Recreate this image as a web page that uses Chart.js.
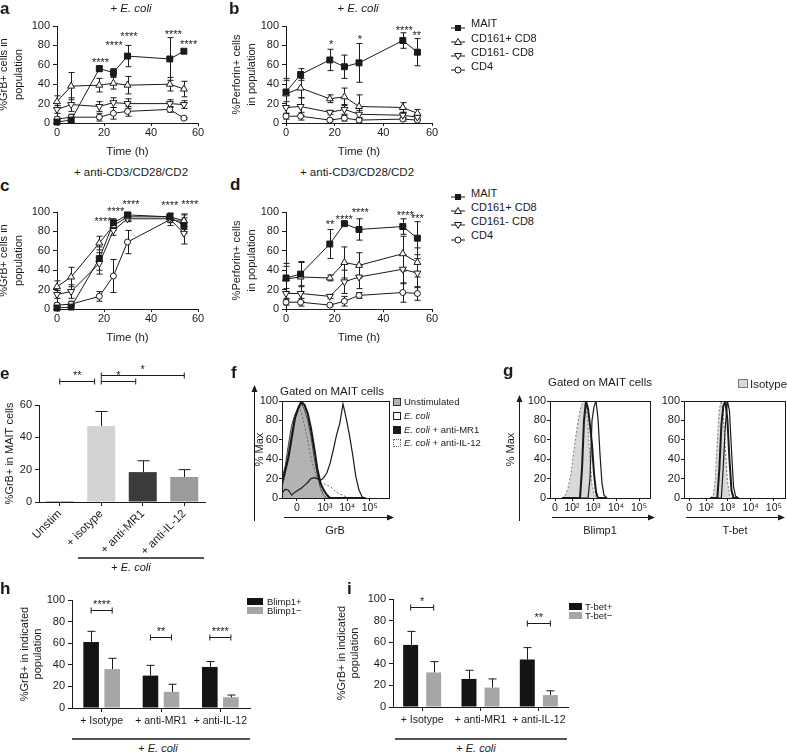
<!DOCTYPE html>
<html lang="en">
<head>
<meta charset="utf-8">
<title>GrB and perforin in MAIT cells</title>
<script src="https://cdn.jsdelivr.net/npm/chart.js@4.4.1/dist/chart.umd.min.js"></script>
<style>
  html, body { margin: 0; padding: 0; background: #fff; }
  #fig { position: relative; width: 787px; height: 753px; overflow: hidden;
         font-family: "Liberation Sans", Arial, sans-serif; color: #1a1a1a; }
  #fig canvas { position: absolute; }
  .t { position: absolute; white-space: nowrap; line-height: 1; }
  .sw { position: absolute; box-sizing: border-box; }
</style>
</head>
<body>
<div id="fig"></div>
<script>
// ---- values ----
const hours = [0, 6, 18, 24, 30, 48, 54];
const cellTypes = ['MAIT', 'CD161+ CD8', 'CD161- CD8', 'CD4'];

// rows follow cellTypes (mean, then SD)
const grbEcoli = [
  [1, 3, 56, 52, 69, 66, 74],
  [22, 38, 39, 41, 39, 40, 35],
  [14, 19, 17, 21, 20, 20, 19],
  [4, 6, 6, 10, 12, 14, 5]
];
const grbEcoliSd = [
  [1, 2, 3, 4, 11, 22, 0],
  [6, 14, 7, 6, 9, 7, 8],
  [4, 7, 5, 5, 5, 4, 4],
  [2, 3, 4, 6, 5, 3, 1]
];
const prfEcoli = [
  [32, 50, 65, 58, 62, 85, 73],
  [30, 36, 25, 27, 17, 16, 10],
  [16, 17, 11, 14, 9, 8, 6],
  [7, 7, 3, 5, 3, 4, 3]
];
const prfEcoliSd = [
  [14, 6, 11, 12, 20, 8, 14],
  [14, 10, 4, 9, 12, 5, 4],
  [6, 9, 2, 5, 4, 3, 2],
  [3, 4, 1, 3, 2, 2, 1]
];
const grbCd3 = [
  [1, 2, 52, 89, 97, 95, 86],
  [23, 33, 68, 86, 95, 95, 91],
  [15, 18, 47, 81, 93, 93, 78],
  [4, 5, 13, 34, 69, 92, 90]
];
const grbCd3Sd = [
  [2, 2, 12, 4, 2, 3, 8],
  [6, 10, 7, 5, 4, 4, 6],
  [4, 7, 11, 5, 3, 4, 11],
  [2, 3, 5, 17, 12, 6, 8]
];
const prfCd3 = [
  [32, 36, 67, 88, 82, 85, 73],
  [31, 33, 32, 48, 45, 57, 48],
  [16, 16, 13, 28, 33, 41, 37],
  [7, 7, 4, 8, 14, 17, 16]
];
const prfCd3Sd = [
  [15, 13, 15, 1, 11, 8, 17],
  [13, 15, 3, 16, 13, 18, 15],
  [5, 8, 2, 12, 12, 15, 15],
  [3, 4, 1, 5, 3, 10, 7]
];
// significance stars: [time, % level, text]
const sigA = [[18.5, 65, '****'], [24.3, 82, '****'], [30.6, 92, '****'], [49.5, 94, '****'], [56, 84, '****']];
const sigB = [[18.5, 83.5, '*'], [30.4, 88.7, '*'], [48.6, 98, '****'], [53.7, 93, '**']];
const sigC = [[19.6, 93, '****'], [25, 103, '****'], [31.5, 110, '****'], [48, 109, '****'], [56.5, 110, '****']];
const sigD = [[18.1, 90, '**'], [23.9, 95, '****'], [30.5, 102, '****'], [49, 99, '****'], [54, 96, '***']];

// e: %GrB+ in MAIT cells
const eLabels = ['Unstim', '+ isotype', '+ anti-MR1', '+ anti-IL-12'];
const eMean = [0.5, 47, 18.5, 15.5];
const eErr = [0, 9, 7, 4.5];
const eBrackets = [[0, 0.84, 75, '**'], [1, 1.83, 75, '*'], [1, 3, 78.5, '*']];

// h, i
const treatLabels = ['+ Isotype', '+ anti-MR1', '+ anti-IL-12'];
const blimpPos = [61, 30, 38];
const blimpPosErr = [10, 9.5, 5];
const blimpNeg = [36, 15, 10];
const blimpNegErr = [10, 7, 2];
const blimpPairs = [[0, 90.5, '****'], [1, 66, '**'], [2, 66, '****']];
const tbetPos = [57.5, 26, 44];
const tbetPosErr = [12.5, 8, 11];
const tbetNeg = [32, 18, 11];
const tbetNegErr = [10, 8, 4];
const tbetPairs = [[0, 92.3, '*'], [2, 77.5, '**']];

// f: GrB histograms (channel, % max)
const fBins = [0, 3, 6, 9, 12, 15, 18, 21, 24, 27, 30, 33, 36, 39, 42, 45, 48, 51, 54, 57, 60, 63, 66, 69, 72, 75, 78];
const fUnstim = [20, 33, 55, 75, 86, 92, 98, 91, 80, 64, 42, 24, 10, 3, 0, 0, 0, 0, 0, 0, 0, 0, 0, 0, 0, 0, 0];
const fEcoli = [5, 9, 8, 3, 6, 8, 10, 13, 16, 20, 21, 20, 18, 21, 26, 36, 50, 65, 77, 97, 82, 65, 45, 22, 8, 1, 0];
const fAntiMR1 = [15, 28, 42, 62, 82, 92, 99, 96, 87, 72, 52, 30, 15, 8, 3, 0, 0, 0, 0, 0, 0, 0, 0, 0, 0, 0, 0];
const fAntiIL12 = [10, 25, 45, 65, 80, 95, 88, 75, 60, 42, 30, 20, 16, 15, 13, 12, 9, 6, 4, 3, 1, 0, 0, 0, 0, 0, 0];
const fTicks = [14, 40, 61, 82];
const fTickLabels = ['0', '10³', '10⁴', '10⁵'];

// g: Blimp1 and T-bet histograms
const gBins = [12, 15, 18, 21, 24, 27, 30, 32, 34, 36, 38, 40, 42, 44, 46, 48, 50, 52, 54, 57];
const blimpIso = [0, 2, 10, 25, 50, 72, 90, 97, 100, 93, 75, 40, 14, 5, 0, 0, 0, 0, 0, 0];
const blimpA = [0, 0, 0, 0, 0, 0, 0, 30, 80, 100, 92, 75, 55, 25, 6, 0, 0, 0, 0, 0];
const blimpB = [0, 0, 0, 0, 0, 0, 0, 0, 0, 0, 0, 20, 80, 94, 100, 82, 45, 15, 3, 0];
const tBins = [26, 29, 31, 33, 35, 37, 39, 41, 43, 45, 47, 49, 51, 54];
const tbetIso = [0, 3, 20, 60, 92, 100, 85, 50, 18, 3, 0, 0, 0, 0];
const tbetA = [0, 0, 0, 0, 30, 75, 95, 100, 80, 40, 8, 0, 0, 0];
const tbetB = [0, 0, 0, 0, 0, 0, 35, 75, 100, 90, 50, 12, 2, 0];
const gTicks = [5, 22, 43, 66, 89];
const gTickLabels = ['0', '10²', '10³', '10⁴', '10⁵'];

// ---- drawing ----
const INK = '#1a1a1a';
const FONT = '"Liberation Sans", Arial, sans-serif';
Chart.defaults.font.family = FONT;
Chart.defaults.font.size = 11;
Chart.defaults.color = INK;

const MARK = [
  { style: 'rect', rot: 0, r: 4.2, fill: INK },
  { style: 'triangle', rot: 0, r: 4, fill: '#fff' },
  { style: 'triangle', rot: 180, r: 4, fill: '#fff' },
  { style: 'circle', rot: 0, r: 3, fill: '#fff' }
];
const fig = document.getElementById('fig');

function drawErrors(chart, upOnly, cap) {
  const ctx = chart.ctx, ys = chart.scales.y;
  chart.data.datasets.forEach((ds, i) => {
    if (!ds.errors) return;
    chart.getDatasetMeta(i).data.forEach((el, j) => {
      const e = ds.errors[j];
      if (!e) return;
      const v = typeof ds.data[j] === 'object' ? ds.data[j].y : ds.data[j];
      const x = Math.round(el.x) + 0.5;
      const top = ys.getPixelForValue(v + e);
      const low = v - e > 0 ? v - e : 0;
      const bot = upOnly ? ys.getPixelForValue(v) : ys.getPixelForValue(low);
      ctx.beginPath();
      ctx.moveTo(x, bot); ctx.lineTo(x, top);
      ctx.moveTo(x - cap, top); ctx.lineTo(x + cap, top);
      if (!upOnly && v - e > 0) { ctx.moveTo(x - cap, bot); ctx.lineTo(x + cap, bot); }
      ctx.stroke();
    });
  });
}

function bracket(ctx, x1, x2, yy, t) {
  yy = Math.round(yy) + 0.5;
  ctx.beginPath();
  ctx.moveTo(x1, yy - 3); ctx.lineTo(x1, yy + 3);
  ctx.moveTo(x1, yy); ctx.lineTo(x2, yy);
  ctx.moveTo(x2, yy - 3); ctx.lineTo(x2, yy + 3);
  ctx.stroke();
  ctx.fillText(t, (x1 + x2) / 2, yy - 3);
}

// error bars, stars, brackets, frames and arrows
function marks(spec) {
  return {
    id: 'marks',
    beforeDatasetsDraw(chart) {
      if (spec.err !== 'both') return;
      chart.ctx.save();
      chart.ctx.strokeStyle = INK; chart.ctx.lineWidth = 1;
      drawErrors(chart, false, spec.cap || 3);
      chart.ctx.restore();
    },
    afterDatasetsDraw(chart) {
      const ctx = chart.ctx, xs = chart.scales.x, ys = chart.scales.y, a = chart.chartArea;
      ctx.save();
      ctx.strokeStyle = INK; ctx.fillStyle = INK; ctx.lineWidth = 1;
      if (spec.err === 'up') drawErrors(chart, true, spec.cap || 4);
      ctx.font = '11px ' + FONT;
      ctx.textAlign = 'center';
      (spec.sig || []).forEach(([sx, sy, t]) => {
        ctx.fillText(t, xs.getPixelForValue(sx), ys.getPixelForValue(sy) + 6);
      });
      (spec.brackets || []).forEach(([i, j, by, t]) => {
        bracket(ctx, xs.getPixelForValue(i), xs.getPixelForValue(j), ys.getPixelForValue(by), t);
      });
      (spec.pairs || []).forEach(([g, by, t]) => {
        const b0 = chart.getDatasetMeta(0).data[g], b1 = chart.getDatasetMeta(1).data[g];
        bracket(ctx, b0.x, b1.x, ys.getPixelForValue(by), t);
      });
      if (spec.box) {
        ctx.strokeRect(Math.round(a.left) + 0.5, Math.round(a.top) + 0.5,
          Math.round(a.right - a.left), Math.round(a.bottom - a.top));
      }
      if (spec.arrowY != null) {
        const ax = Math.round(a.left - spec.arrowY) + 0.5, tip = a.top - spec.arrowTop;
        ctx.beginPath(); ctx.moveTo(ax, a.bottom + 23); ctx.lineTo(ax, tip + 4); ctx.stroke();
        ctx.beginPath(); ctx.moveTo(ax, tip); ctx.lineTo(ax - 3, tip + 7); ctx.lineTo(ax + 3, tip + 7); ctx.fill();
      }
      if (spec.arrowX) {
        const ay = Math.round(a.bottom + 19) + 0.5, tip = a.right + (spec.arrowEnd == null ? 5 : spec.arrowEnd);
        ctx.beginPath(); ctx.moveTo(a.left + 2, ay); ctx.lineTo(tip - 4, ay); ctx.stroke();
        ctx.beginPath(); ctx.moveTo(tip, ay); ctx.lineTo(tip - 7, ay - 3); ctx.lineTo(tip - 7, ay + 3); ctx.fill();
      }
      ctx.restore();
    }
  };
}

// canvas at rect [left, top, width, height]; plot area pinned to [left, top, right, bottom]
function makeChart(rect, area, cfg) {
  const [L, T, W, H] = rect;
  const cv = document.createElement('canvas');
  cv.width = W; cv.height = H;
  cv.style.left = L + 'px'; cv.style.top = T + 'px';
  cv.style.width = W + 'px'; cv.style.height = H + 'px';
  fig.appendChild(cv);
  const yW = area[0] - L, xH = T + H - area[3];
  const o = cfg.options;
  o.responsive = false; o.animation = false; o.devicePixelRatio = 1; o.events = [];
  o.layout = { padding: { left: 0, top: area[1] - T, right: L + W - area[2], bottom: 0 } };
  o.plugins = { legend: { display: false }, tooltip: { enabled: false } };
  o.scales.x.afterFit = s => { s.height = xH; };
  o.scales.y.afterFit = s => { s.width = yW; };
  return new Chart(cv, cfg);
}

function axisBase(tick) {
  return { border: { color: INK, width: 1 },
           grid: { drawOnChartArea: false, tickLength: tick, color: INK, offset: false } };
}
function yTitle(text, pad, lh) {
  return { display: true, text, color: INK, font: { size: 11, lineHeight: lh || 1.2 }, padding: { top: pad } };
}

function timeCourse(rect, area, means, sds, title, sig) {
  const datasets = means.map((row, k) => ({
    label: cellTypes[k],
    data: hours.map((h, j) => ({ x: h, y: row[j] })),
    errors: sds[k],
    borderColor: INK, borderWidth: 1,
    pointStyle: MARK[k].style, pointRotation: MARK[k].rot, pointRadius: MARK[k].r,
    pointBackgroundColor: MARK[k].fill, pointBorderColor: INK, pointBorderWidth: 1,
    clip: false
  }));
  return makeChart(rect, area, {
    type: 'line',
    data: { datasets },
    options: {
      scales: {
        x: Object.assign(axisBase(3), { type: 'linear', min: 0, max: 60,
          ticks: { stepSize: 20, padding: 0, color: INK },
          title: { display: true, text: 'Time (h)', color: INK, font: { size: 11.5 }, padding: { top: 0, bottom: 1 } } }),
        y: Object.assign(axisBase(4), { min: 0, max: 100,
          ticks: { stepSize: 20, padding: 3, color: INK },
          title: yTitle(title, 2, 1.35) })
      }
    },
    plugins: [marks({ err: 'both', cap: 3, sig })]
  });
}

timeCourse([-5, 15, 215, 145], [57, 26, 198, 123], grbEcoli, grbEcoliSd, ['%GrB+ cells in', 'population'], sigA);
timeCourse([228, 15, 216, 145], [286, 26, 432, 123], prfEcoli, prfEcoliSd, ['%Perforin+ cells', 'in population'], sigB);
timeCourse([-5, 195, 215, 151], [57, 212, 198, 309], grbCd3, grbCd3Sd, ['%GrB+ cells in', 'population'], sigC);
timeCourse([228, 195, 216, 151], [286, 212, 432, 309], prfCd3, prfCd3Sd, ['%Perforin+ cells', 'in population'], sigD);

// e
makeChart([0, 360, 215, 200], [39, 405, 205, 502], {
  type: 'bar',
  data: { labels: eLabels, datasets: [{ data: eMean, errors: eErr,
    backgroundColor: ['#141414', '#d3d3d3', '#3b3b3b', '#9b9b9b'],
    barPercentage: 0.675, categoryPercentage: 1 }] },
  options: {
    scales: {
      x: Object.assign(axisBase(4), { ticks: { minRotation: 45, maxRotation: 45, autoSkip: false, padding: 1,
        color: INK, font: { size: 11.5 } } }),
      y: Object.assign(axisBase(4), { min: 0, max: 60, ticks: { stepSize: 20, padding: 3, color: INK },
        title: yTitle('%GrB+ in MAIT cells', 3.4) })
    }
  },
  plugins: [marks({ err: 'up', cap: 6, brackets: eBrackets })]
});

function pairedBars(rect, area, labels, pos, posErr, neg, negErr, cat, bar, pad, pairs) {
  return makeChart(rect, area, {
    type: 'bar',
    data: { labels: treatLabels, datasets: [
      { label: labels[0], data: pos, errors: posErr, backgroundColor: '#141414', barPercentage: bar, categoryPercentage: cat },
      { label: labels[1], data: neg, errors: negErr, backgroundColor: '#a6a6a6', barPercentage: bar, categoryPercentage: cat }
    ] },
    options: {
      scales: {
        x: Object.assign(axisBase(4), { ticks: { padding: 3, color: INK, font: { size: 10.5 }, maxRotation: 0, autoSkip: false } }),
        y: Object.assign(axisBase(4), { min: 0, max: 100, ticks: { stepSize: 20, padding: 3, color: INK },
          title: yTitle(['%GrB+ in indicated', 'population'], pad) })
      }
    },
    plugins: [marks({ err: 'up', cap: 4, pairs })]
  });
}
pairedBars([10, 575, 250, 158], [72, 600, 250, 708], ['Blimp1+', 'Blimp1−'],
  blimpPos, blimpPosErr, blimpNeg, blimpNegErr, 0.71, 0.74, 8.4, blimpPairs);
pairedBars([330, 575, 248, 157], [393, 599, 568, 707], ['T-bet+', 'T-bet−'],
  tbetPos, tbetPosErr, tbetNeg, tbetNegErr, 0.79, 0.65, 5.4, tbetPairs);

// flow histograms
function flowSet(bins, vals, st) {
  return Object.assign({ data: bins.map((b, i) => ({ x: b, y: vals[i] })),
    pointRadius: 0, tension: 0, fill: false, borderColor: INK, borderWidth: 1 }, st);
}
function flowPlot(rect, area, datasets, ticks, tickLabels, title, titlePad, frame) {
  return makeChart(rect, area, {
    type: 'line',
    data: { datasets },
    options: {
      scales: {
        x: Object.assign(axisBase(3), { type: 'linear', min: 0, max: 100,
          afterBuildTicks: s => { s.ticks = ticks.map(v => ({ value: v })); },
          ticks: { callback: (v, i) => tickLabels[i], autoSkip: false, maxRotation: 0, padding: 1,
                   color: INK, font: { size: 10.5 } } }),
        y: Object.assign(axisBase(3), { min: 0, max: 100,
          ticks: { stepSize: 20, padding: 1, color: INK },
          title: title ? yTitle(title, titlePad) : { display: false } })
      }
    },
    plugins: [marks(Object.assign({ box: true, arrowX: true }, frame))]
  });
}

flowPlot([250, 380, 147, 158], [282, 401, 389, 498], [
  flowSet(fBins, fEcoli, { borderWidth: 1.2 }),
  flowSet(fBins, fAntiMR1, { borderWidth: 2.2 }),
  flowSet(fBins, fAntiIL12, { borderColor: '#666', borderDash: [2, 2] }),
  flowSet(fBins, fUnstim, { backgroundColor: '#b3b3b3', fill: 'origin', borderColor: '#444' })
], fTicks, fTickLabels, '% Max', 3, { arrowY: 28, arrowTop: 16 });

flowPlot([500, 380, 158, 158], [550, 401, 650, 498], [
  flowSet(gBins, blimpB, { borderWidth: 1.2 }),
  flowSet(gBins, blimpA, { borderWidth: 2 }),
  flowSet(gBins, blimpIso, { backgroundColor: '#d9d9d9', fill: 'origin', borderColor: '#777', borderDash: [2, 2] })
], gTicks, gTickLabels, '% Max', 4.4, { arrowY: 31, arrowTop: 6 });

flowPlot([655, 380, 132, 158], [684, 401, 785, 498], [
  flowSet(tBins, tbetB, { borderWidth: 1.2 }),
  flowSet(tBins, tbetA, { borderWidth: 2 }),
  flowSet(tBins, tbetIso, { backgroundColor: '#d9d9d9', fill: 'origin', borderColor: '#777', borderDash: [2, 2] })
], gTicks, gTickLabels, null, 0, { arrowEnd: 0 });

// ---- text, legends, rules ----
function label(html, x, base, size, opts) {
  opts = opts || {};
  const d = document.createElement('div');
  d.className = 't';
  d.innerHTML = html;
  d.style.fontSize = size + 'px';
  d.style.left = x + 'px';
  d.style.top = (base - 0.85 * size) + 'px';
  if (opts.bold) d.style.fontWeight = 'bold';
  if (opts.center) d.style.transform = 'translateX(-50%)';
  fig.appendChild(d);
}
function swatch(x, y, w, h, css) {
  const d = document.createElement('div');
  d.className = 'sw';
  d.style.cssText = `left:${x}px;top:${y}px;width:${w}px;height:${h}px;${css}`;
  fig.appendChild(d);
}
function rule(x1, x2, y) { swatch(x1, y, x2 - x1, 1.5, 'background:#555'); }

[['a', 0, 14], ['b', 229, 14], ['c', 0, 191], ['d', 230, 190], ['e', 0, 379],
 ['f', 231, 378], ['g', 503, 376], ['h', 0, 594], ['i', 347, 594]]
  .forEach(([s, x, b]) => label(s, x, b, 17, { bold: true }));

label('+ <i>E. coli</i>', 131, 13, 11.5, { center: true });
label('+ <i>E. coli</i>', 358, 13, 11.5, { center: true });
label('+ anti-CD3/CD28/CD2', 131, 177, 11.5, { center: true });
label('+ anti-CD3/CD28/CD2', 357, 177, 11.5, { center: true });

const markerSvg = [
  '<rect x="4" y="2" width="6" height="6" fill="#1a1a1a"/>',
  '<polygon points="7,1.5 10.5,7.5 3.5,7.5" fill="#fff" stroke="#1a1a1a"/>',
  '<polygon points="7,8.5 10.5,2.5 3.5,2.5" fill="#fff" stroke="#1a1a1a"/>',
  '<circle cx="7" cy="5" r="3" fill="#fff" stroke="#1a1a1a"/>'
];
[[27.5, 42, 56, 70], [197, 211, 225, 239.5]].forEach(rows => rows.forEach((b, k) => {
  const s = document.createElement('div');
  s.className = 'sw';
  s.style.cssText = `left:451px;top:${b - 9}px;width:14px;height:10px`;
  s.innerHTML = `<svg width="14" height="10"><line x1="0" y1="5" x2="14" y2="5" stroke="#1a1a1a"/>${markerSvg[k]}</svg>`;
  fig.appendChild(s);
  label(cellTypes[k], 471, b, 11);
}));

rule(78, 204, 557);
label('+ <i>E. coli</i>', 131, 571, 11, { center: true });

label('Gated on MAIT cells', 332, 396, 11.5, { center: true });
const fLegend = ['Unstimulated', '<i>E. coli</i>', '<i>E. coli</i> + anti-MR1', '<i>E. coli</i> + anti-IL-12'];
const fSwatch = ['background:#b3b3b3;border:1px solid #333', 'background:#fff;border:1px solid #1a1a1a',
                 'background:#1a1a1a;border:1px solid #1a1a1a', 'background:#fff;border:1px dotted #666'];
[402, 416, 430, 443].forEach((c, k) => {
  swatch(393, c - 4, 8, 8, fSwatch[k]);
  label(fLegend[k], 404, c + 3.4, 9.5);
});
label('GrB', 335, 534, 11, { center: true });

label('Gated on MAIT cells', 600, 387, 11.5, { center: true });
swatch(738, 379, 10, 9, 'background:#d9d9d9;border:1px solid #777');
label('Isotype', 750, 389, 11.5);
label('Blimp1', 600, 534, 11, { center: true });
label('T-bet', 735, 534, 11, { center: true });

swatch(247, 598, 16, 7, 'background:#141414');
swatch(247, 607, 16, 7, 'background:#a6a6a6');
label('Blimp1+', 267, 605, 9.5);
label('Blimp1−', 267, 614, 9.5);
rule(72, 250, 738);
label('+ <i>E. coli</i>', 158, 752, 11, { center: true });

swatch(569, 603, 13, 7, 'background:#141414');
swatch(569, 612, 13, 7, 'background:#a6a6a6');
label('T-bet+', 585, 610, 9.5);
label('T-bet−', 585, 619, 9.5);
rule(395, 567, 738);
label('+ <i>E. coli</i>', 476, 752, 11, { center: true });
</script>
</body>
</html>
